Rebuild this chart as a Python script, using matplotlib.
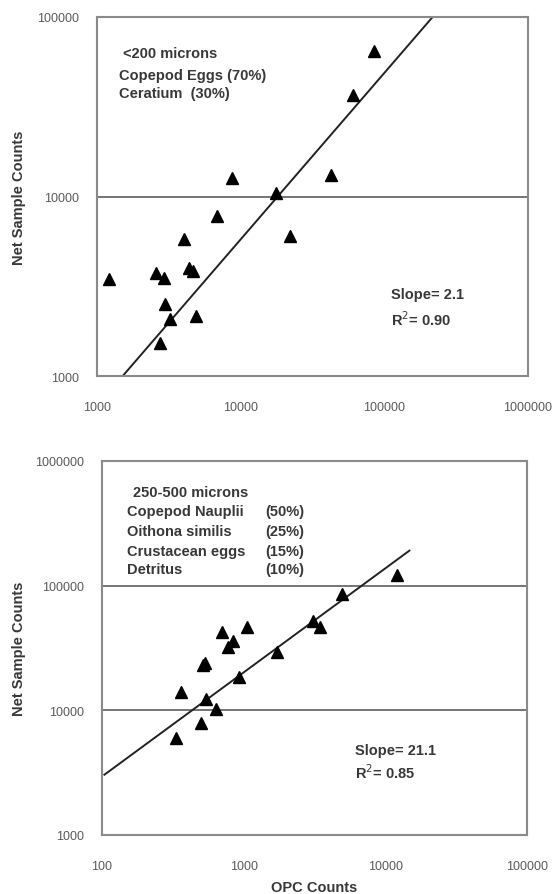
import math
import matplotlib
matplotlib.use("Agg")
import matplotlib.pyplot as plt
from matplotlib.ticker import FuncFormatter, FixedLocator

# ---- Top panel data (<200 microns) ----
top_opc = [85300, 60800, 8690, 42200, 17600, 6810, 22000, 4055, 1205, 2580, 2925,
           4400, 4650, 2970, 3236, 4890, 2730]
top_net = [64400, 37000, 12700, 13250, 10470, 7780, 6010, 5770, 3480, 3760, 3520,
           4000, 3850, 2530, 2070, 2160, 1535]
top_fit_x = [1510, 216800]
top_fit_y = [1000, 100000]
top_lines = ["<200 microns", "Copepod Eggs (70%)", "Ceratium  (30%)"]
top_stats = ["Slope= 2.1", "R$^2$= 0.90"]

# ---- Bottom panel data (250-500 microns) ----
bot_opc = [12020, 4955, 3073, 3447, 1059, 700, 841, 772, 1728, 516, 530, 933, 359,
           540, 638, 501, 335]
bot_net = [122800, 85100, 52300, 46200, 46200, 42200, 36100, 32000, 29200, 22900,
           23800, 18500, 14000, 12400, 10300, 7940, 5960]
bot_fit_x = [104, 14790]
bot_fit_y = [3045, 191000]
bot_names = ["Copepod Nauplii", "Oithona similis", "Crustacean eggs", "Detritus"]
bot_pcts = ["(50%)", "(25%)", "(15%)", "(10%)"]
bot_stats = ["Slope= 21.1", "R$^2$= 0.85"]

W, H = 555, 895
plt.rcParams['font.family'] = ['Liberation Sans', 'DejaVu Sans']
fig = plt.figure(figsize=(W / 100, H / 100), dpi=100)

txt_c = '#383838'
tick_c = '#5a5a5a'
frame_c = '#8a8a8a'
FS = 10.5


def make_ax(l, t, r, b):
    return fig.add_axes([l / W, 1 - b / H, (r - l) / W, (b - t) / H])


def decades(lo, hi):
    return [10 ** k for k in range(int(round(math.log10(lo))), int(round(math.log10(hi))) + 1)]


def style(ax, xlim, ylim):
    ax.set_xscale('log')
    ax.set_yscale('log')
    ax.set_xlim(*xlim)
    ax.set_ylim(*ylim)
    ax.xaxis.set_major_locator(FixedLocator(decades(*xlim)))
    ax.yaxis.set_major_locator(FixedLocator(decades(*ylim)))
    ax.minorticks_off()
    fmt = FuncFormatter(lambda v, p: f"{int(round(v))}")
    ax.xaxis.set_major_formatter(fmt)
    ax.yaxis.set_major_formatter(fmt)
    for s in ax.spines.values():
        s.set_color(frame_c)
        s.set_linewidth(1.5)
    ax.tick_params(length=0, labelsize=9, labelcolor=tick_c)
    ax.tick_params(axis='x', pad=18)
    ax.tick_params(axis='y', pad=13)
    ax.yaxis.grid(True, color='#505050', linewidth=1.1)
    ax.set_axisbelow(True)


# Top panel
ax1 = make_ax(97, 18, 528, 377)
style(ax1, (1000, 1e6), (1000, 1e5))
ax1.plot(top_fit_x, top_fit_y, color='#222222', lw=1.4, zorder=2)
ax1.plot(top_opc, top_net, linestyle='none', marker='^', color='black', markersize=9, zorder=3)
for s, x, y in zip(top_lines, [0.060, 0.051, 0.051], [0.900, 0.838, 0.788]):
    ax1.text(x, y, s, transform=ax1.transAxes, fontsize=FS, fontweight='bold',
             color=txt_c, va='center', ha='left')
for s, y in zip(top_stats, [0.228, 0.159]):
    ax1.text(0.682, y, s, transform=ax1.transAxes, fontsize=FS, fontweight='bold',
             color=txt_c, va='center', ha='left')
fig.text(19 / W, 1 - 197.5 / H, "Net Sample Counts", rotation=90, fontsize=FS,
         fontweight='bold', color=txt_c, ha='center', va='center')

# Bottom panel
ax2 = make_ax(102, 462, 527, 836)
style(ax2, (100, 1e5), (1000, 1e6))
ax2.plot(bot_fit_x, bot_fit_y, color='#222222', lw=1.4, zorder=2)
ax2.plot(bot_opc, bot_net, linestyle='none', marker='^', color='black', markersize=9, zorder=3)
ax2.text(0.073, 0.917, "250-500 microns", transform=ax2.transAxes, fontsize=FS,
         fontweight='bold', color=txt_c, va='center', ha='left')
for n, p, y in zip(bot_names, bot_pcts, [0.866, 0.813, 0.759, 0.711]):
    ax2.text(0.059, y, n, transform=ax2.transAxes, fontsize=FS, fontweight='bold',
             color=txt_c, va='center', ha='left')
    ax2.text(0.384, y, p, transform=ax2.transAxes, fontsize=FS, fontweight='bold',
             color=txt_c, va='center', ha='left')
for s, y in zip(bot_stats, [0.227, 0.170]):
    ax2.text(0.596, y, s, transform=ax2.transAxes, fontsize=FS, fontweight='bold',
             color=txt_c, va='center', ha='left')
fig.text(19 / W, 1 - 649 / H, "Net Sample Counts", rotation=90, fontsize=FS,
         fontweight='bold', color=txt_c, ha='center', va='center')
fig.text(314 / W, 1 - 888 / H, "OPC Counts", fontsize=FS, fontweight='bold',
         color=txt_c, ha='center', va='center')

fig.savefig("out.png", dpi=100)
